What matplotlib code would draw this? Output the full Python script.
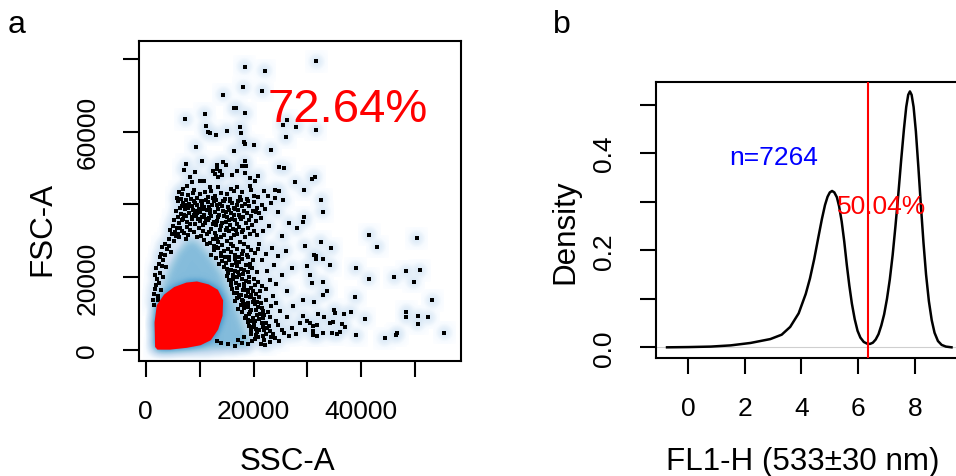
import numpy as np
import matplotlib
matplotlib.use("Agg")
import matplotlib.pyplot as plt
from matplotlib.path import Path
from matplotlib.colors import LinearSegmentedColormap

plt.rcParams["font.family"] = "Liberation Sans"

# ---- panel a: SSC-A / FSC-A (values in thousands) ----
# sparse events
events_k = [
    (18.4, 77.9), (22.1, 76.8), (18.1, 72.2), (21.6, 71.3), (14.4, 70.2), (16.4, 66.5),
    (16.8, 66.5), (18.5, 65.1), (11.0, 64.9), (7.3, 63.5), (11.1, 61.5), (11.5, 59.8),
    (11.9, 59.6), (13.0, 59.2), (15.0, 60.3), (17.5, 61.4), (17.6, 59.7), (18.2, 57.1),
    (18.4, 56.5), (20.0, 56.3), (9.3, 55.9), (16.4, 54.8), (23.2, 55.1), (26.2, 63.2),
    (25.5, 61.9), (27.9, 61.4), (26.0, 58.5), (10.4, 51.9), (7.5, 51.1), (7.1, 49.6),
    (13.3, 50.9), (14.3, 51.6), (14.9, 50.8), (18.4, 52.0), (17.8, 50.7), (18.6, 50.7),
    (24.8, 50.2), (25.7, 49.9), (12.5, 49.3), (13.2, 49.7), (13.8, 49.1), (12.9, 48.4),
    (14.1, 48.2), (13.5, 47.6), (9.1, 48.8), (16.9, 49.3), (16.0, 48.2), (18.4, 48.6),
    (19.3, 47.3), (20.9, 47.9), (20.3, 46.5), (8.2, 47.5), (8.5, 46.1), (7.6, 45.2),
    (7.0, 44.2), (6.7, 42.9), (5.8, 41.8), (10.1, 46.4), (10.9, 46.5), (11.9, 44.7),
    (12.2, 43.6), (11.0, 43.3), (10.1, 42.9), (10.4, 41.0), (11.6, 42.0), (13.5, 44.7),
    (15.0, 42.9), (16.3, 43.8), (16.9, 44.7), (17.5, 42.0), (15.6, 41.5), (14.4, 41.0),
    (19.3, 45.2), (20.0, 42.4), (20.9, 42.0), (21.9, 43.8), (24.0, 44.0), (24.8, 43.8),
    (24.0, 41.8), (25.5, 41.2), (27.7, 46.1),
    (31.6, 79.4), (31.5, 60.5), (31.4, 47.6), (30.9, 47.0), (29.4, 44.0), (32.6, 41.3),
    (32.8, 38.0), (29.4, 36.4), (29.2, 35.2), (41.5, 31.7), (50.3, 30.7), (32.5, 29.7),
    (43.0, 28.4), (34.4, 27.9), (31.2, 26.1), (31.5, 25.0), (31.6, 25.9), (32.8, 25.0),
    (30.0, 23.1), (34.2, 23.3), (39.0, 22.4), (30.5, 20.6), (41.4, 19.5), (46.1, 20.0),
    (48.3, 21.6), (50.8, 21.9), (49.7, 18.7), (30.8, 18.4), (32.8, 18.6), (33.6, 16.1),
    (32.8, 15.1), (38.9, 14.5), (29.2, 13.6), (31.2, 13.2), (53.2, 13.6), (35.0, 11.0),
    (36.7, 9.8), (38.0, 10.5), (35.1, 10.1), (48.3, 10.4), (48.3, 8.9), (50.6, 9.2),
    (52.4, 9.0), (50.5, 7.1), (32.0, 9.8), (33.1, 8.9), (29.2, 9.4), (29.9, 8.0),
    (30.5, 7.4), (40.6, 8.5), (34.1, 7.4), (34.8, 7.5), (36.5, 7.1), (36.9, 6.2),
    (31.1, 6.6), (31.7, 6.8), (29.6, 5.5), (31.0, 5.2), (32.8, 4.6), (34.5, 4.5),
    (35.4, 4.3), (36.0, 5.0), (31.1, 4.0), (31.8, 3.9), (39.1, 4.0), (44.3, 3.1),
    (46.4, 4.0), (46.7, 4.5), (55.4, 4.6),
]

# dense mass above the cloud
mass_k = [
    (6.0, 40.8), (6.8, 39.5), (7.5, 41.2), (8.1, 40.1), (8.9, 41.0), (9.6, 39.8),
    (10.2, 40.9), (10.9, 39.2), (11.6, 40.6), (12.3, 39.7), (13.1, 41.1), (13.8, 40.0),
    (14.6, 40.8), (15.3, 39.4), (16.1, 40.5), (16.9, 39.9), (17.6, 41.3), (18.4, 40.2),
    (19.2, 39.6), (20.1, 40.7), (21.5, 39.8), (23.3, 40.4), (5.7, 38.2), (6.5, 37.3),
    (7.2, 38.6), (8.0, 37.6), (8.7, 38.4), (9.4, 36.9), (10.1, 38.0), (10.8, 37.2),
    (11.4, 38.5), (12.2, 36.8), (12.9, 37.9), (13.6, 37.0), (14.3, 38.3), (15.0, 36.6),
    (15.8, 37.7), (16.6, 38.6), (17.4, 37.1), (18.3, 38.1), (19.5, 36.9), (21.0, 37.5),
    (24.5, 37.9), (5.2, 35.8), (6.1, 34.9), (6.9, 36.0), (7.7, 35.1), (8.5, 35.9),
    (9.2, 34.5), (10.0, 35.5), (10.7, 34.2), (11.5, 35.7), (12.4, 34.6), (13.2, 35.4),
    (14.0, 34.0), (14.9, 35.2), (15.7, 34.4), (16.5, 35.6), (17.3, 33.8), (18.6, 34.9),
    (20.4, 35.3), (22.8, 34.1), (26.5, 35.0), (4.6, 33.0), (5.5, 32.3), (6.4, 33.4),
    (7.1, 32.1), (10.6, 32.8), (11.3, 31.9), (12.1, 33.1), (12.8, 32.2), (13.7, 32.9),
    (14.5, 31.7), (15.4, 32.6), (16.3, 31.5), (17.8, 32.4), (19.4, 31.8), (21.7, 32.7),
    (25.3, 31.2), (28.0, 33.5),
    (6.3, 39.0), (7.0, 40.3), (7.9, 38.9), (8.5, 39.6), (9.2, 40.4), (9.9, 38.6),
    (10.5, 39.9), (11.2, 41.3), (12.0, 38.4), (12.7, 40.9), (13.4, 38.7), (14.1, 39.5),
    (14.9, 37.8), (15.6, 40.9), (16.4, 37.2), (17.1, 38.4), (17.9, 39.5), (18.8, 37.5),
    (19.9, 38.3), (20.7, 39.0), (22.2, 38.6), (5.9, 36.5), (6.7, 35.6), (7.4, 36.8),
    (8.2, 34.6), (8.9, 37.1), (9.7, 35.9), (10.4, 36.6), (11.0, 35.0), (11.8, 36.3),
    (12.6, 35.2), (13.4, 36.4), (14.2, 35.0), (15.1, 33.6), (16.0, 36.1), (16.9, 34.7),
    (17.7, 35.9), (19.0, 33.4), (19.8, 34.3), (21.3, 36.2), (5.0, 34.1), (5.8, 33.5),
    (6.7, 32.6), (7.6, 33.8), (8.3, 33.0), (9.0, 32.5), (9.8, 33.6), (10.3, 31.3),
    (11.8, 32.4), (13.1, 31.4), (14.9, 33.0), (16.8, 32.9), (18.5, 31.0), (20.6, 31.5),
    (6.2, 43.5), (7.8, 42.6), (9.0, 44.0), (9.5, 41.8), (12.8, 42.3), (13.9, 43.2),
    (15.8, 44.2), (17.9, 43.4), (18.8, 41.5), (19.6, 43.9), (22.6, 42.4), (8.7, 43.1),
    (6.6, 41.6), (7.3, 39.9), (8.4, 41.5), (9.1, 38.3), (10.6, 38.7), (11.7, 39.4),
    (12.5, 41.7), (13.3, 39.9), (14.7, 41.6), (15.5, 38.5), (16.3, 39.1), (17.2, 40.8),
    (18.1, 36.6), (19.0, 40.9), (20.4, 37.9), (7.1, 37.2), (8.6, 36.4), (9.6, 37.6),
    (11.1, 36.1), (12.0, 37.5), (13.0, 34.3), (14.5, 36.9), (15.4, 35.8), (16.2, 33.3),
    (17.5, 36.5), (18.0, 33.0), (19.2, 35.6), (20.0, 32.8), (6.0, 31.8), (7.9, 31.6),
    (9.5, 31.0), (12.4, 30.4), (14.0, 31.1), (15.9, 30.8), (17.0, 31.9),
]

# left flank of the cloud
left_band_k = [
    (4.3, 30.5), (3.6, 29.2), (5.2, 29.8), (3.9, 27.6), (2.9, 26.4), (4.7, 26.9),
    (3.2, 24.8), (2.4, 23.5), (3.8, 22.9), (2.7, 21.2), (2.1, 19.6), (3.3, 19.9),
    (1.9, 17.8), (2.8, 16.4), (1.6, 15.2), (2.2, 13.6), (1.5, 12.4), (6.2, 31.0),
    (7.4, 30.6), (3.1, 28.3), (4.4, 28.6), (2.6, 25.6), (3.5, 26.0), (2.0, 22.4),
    (3.0, 23.0), (1.8, 20.7), (2.5, 18.5), (1.7, 16.6), (2.3, 14.9), (1.4, 13.8),
    (5.6, 31.3), (4.9, 31.8), (3.0, 11.2),
]

# right flank of the cloud
right_band_k = [
    (10.8, 30.2), (12.0, 29.5), (13.2, 30.6), (14.1, 28.8), (15.0, 30.0), (16.2, 28.5),
    (17.5, 29.6), (19.0, 28.3), (21.0, 29.2), (23.5, 28.0), (12.6, 27.4), (13.9, 26.6),
    (15.2, 27.8), (16.6, 26.2), (18.0, 27.1), (20.2, 26.5), (26.0, 27.3), (29.5, 28.6),
    (13.0, 25.2), (14.2, 24.4), (15.4, 25.6), (16.7, 24.0), (17.9, 25.0), (19.3, 23.7),
    (14.6, 22.8), (15.8, 21.9), (17.0, 23.1), (18.3, 22.0), (19.8, 22.6), (21.6, 24.6),
    (23.8, 23.2), (27.2, 22.5), (15.0, 20.2), (16.2, 19.4), (17.4, 20.6), (18.6, 19.0),
    (15.8, 17.8), (17.0, 16.9), (18.2, 18.1), (19.5, 17.0), (20.8, 18.6), (16.4, 15.6),
    (17.7, 15.1), (19.0, 15.9), (20.5, 15.3), (22.3, 16.8), (24.1, 18.0), (26.3, 16.2),
    (16.9, 14.2), (18.1, 13.5), (19.4, 14.4), (20.7, 13.2), (17.6, 12.3), (18.9, 11.7),
    (20.2, 12.6), (21.6, 11.4), (17.9, 10.4), (19.2, 9.8), (20.5, 10.9), (21.9, 9.6),
    (23.2, 12.1), (25.0, 10.7), (27.4, 11.9), (23.6, 14.8), (18.4, 8.6), (19.7, 7.9),
    (21.0, 8.4), (22.3, 7.3), (19.1, 6.5), (20.4, 5.8), (21.8, 6.2), (23.1, 5.1),
    (24.6, 6.8), (19.6, 4.2), (20.9, 3.6), (22.4, 4.4), (24.0, 3.2), (25.6, 4.6),
    (27.1, 5.9), (28.6, 7.4), (19.8, 2.3), (21.4, 1.6), (23.0, 2.0), (16.5, 0.9),
    (15.2, 1.5), (17.8, 1.8),
    (11.4, 29.0), (12.7, 28.6), (13.5, 29.7), (14.6, 27.3), (15.8, 29.2), (16.9, 27.6),
    (18.3, 29.0), (19.6, 27.4), (12.2, 26.1), (13.4, 27.9), (14.8, 25.4), (15.9, 26.8),
    (17.3, 25.5), (18.7, 26.1), (20.9, 27.8), (22.4, 26.4), (24.6, 25.9), (13.6, 23.6),
    (14.9, 23.9), (16.1, 23.2), (17.4, 24.2), (18.6, 23.4), (19.9, 24.6), (20.6, 21.3),
    (15.3, 21.0), (16.6, 21.6), (17.7, 22.1), (19.0, 21.4), (22.5, 21.8), (25.3, 20.7),
    (15.5, 19.1), (16.8, 18.5), (17.9, 19.6), (19.2, 20.1), (20.1, 19.4), (21.5, 17.4),
    (16.1, 16.8), (17.3, 17.7), (18.7, 16.5), (19.9, 16.1), (21.2, 16.2), (23.0, 19.2),
    (16.6, 13.4), (17.4, 14.6), (18.6, 14.9), (19.9, 13.0), (21.1, 14.4), (22.4, 13.6),
    (17.2, 11.2), (18.5, 12.6), (19.6, 11.0), (20.9, 11.8), (22.6, 10.5), (24.2, 12.9),
    (18.6, 9.4), (19.9, 8.8), (21.2, 9.9), (23.0, 8.9), (26.2, 9.0), (18.9, 7.6),
    (20.1, 6.9), (21.5, 7.4), (22.9, 6.5), (24.1, 7.9), (19.5, 5.3), (20.6, 4.9),
    (22.0, 5.3), (23.6, 4.3), (25.2, 5.5), (26.5, 3.8), (20.3, 3.0), (21.9, 2.8),
    (24.7, 2.4), (27.9, 4.3), (18.3, 3.4), (17.1, 2.6), (14.0, 1.9), (13.2, 2.5),
    (13.0, 28.2), (14.0, 25.8), (15.5, 24.6), (16.5, 25.0), (17.8, 26.4), (19.0, 25.4),
    (15.0, 22.3), (16.2, 20.6), (17.2, 21.3), (18.1, 20.8), (19.4, 22.9), (15.9, 18.3),
    (17.0, 19.9), (18.2, 17.2), (19.2, 18.6), (16.9, 15.5), (18.0, 16.4), (19.5, 15.0),
    (20.3, 17.9), (17.8, 13.8), (18.9, 12.9), (20.1, 14.0), (21.4, 12.8), (18.2, 11.5),
    (19.4, 10.5), (20.6, 9.6), (21.8, 10.7), (19.0, 8.2), (20.3, 7.8), (21.7, 8.8),
    (19.8, 6.2), (21.0, 5.4), (22.5, 6.0), (20.5, 4.1), (21.7, 3.9), (23.2, 3.5),
    (22.2, 1.3), (18.9, 1.5),
]

# outline of the dense (blue) cloud, thousands
cloud_ssc_k = [1.4, 1.7, 2.0, 3.3, 4.5, 6.0, 7.6, 8.5, 9.8, 11.6, 13.8, 15.6, 17.2, 18.1, 18.7, 19.3, 12.0, 4.0]
cloud_fsc_k = [0.2, 0.7, 12.1, 17.6, 22.2, 26.8, 29.6, 30.3, 29.1, 25.9, 21.3, 14.9, 9.4, 5.7, 3.9, 1.1, 0.2, 0.0]

# outline of the gated (red) population, thousands
gate_ssc_k = [2.0, 1.9, 2.3, 3.6, 5.4, 7.6, 9.5, 11.6, 13.2, 14.1, 14.0, 13.2, 11.9, 10.1, 7.6, 4.5, 2.3]
gate_fsc_k = [0.9, 7.5, 12.1, 14.9, 16.9, 18.1, 18.4, 17.6, 16.2, 13.5, 9.4, 5.7, 2.9, 1.6, 0.9, 0.4, 0.4]
gated_label = "72.64%"

# ---- panel b: FL1-H density ----
fl1_x = [-0.75, 0.0, 0.8, 1.5, 2.2, 2.9, 3.3, 3.6, 3.9, 4.15, 4.30, 4.45, 4.60, 4.72,
         4.83, 4.92, 5.00, 5.08, 5.16, 5.25, 5.33, 5.42, 5.51, 5.60, 5.69, 5.78, 5.88,
         5.98, 6.08, 6.20, 6.32, 6.42, 6.52, 6.62, 6.72, 6.82, 6.92, 7.02, 7.12, 7.22,
         7.32, 7.42, 7.52, 7.62, 7.70, 7.77, 7.83, 7.89, 7.96, 8.04, 8.13, 8.22, 8.31,
         8.40, 8.50, 8.60, 8.70, 8.82, 8.95, 9.10, 9.30]
fl1_density = [0.000, 0.0005, 0.0015, 0.004, 0.009, 0.017, 0.026, 0.042, 0.070, 0.110,
               0.142, 0.182, 0.228, 0.264, 0.293, 0.310, 0.319, 0.322, 0.319, 0.309,
               0.290, 0.259, 0.218, 0.170, 0.127, 0.090, 0.058, 0.034, 0.020, 0.011,
               0.0075, 0.007, 0.0095, 0.016, 0.027, 0.045, 0.068, 0.100, 0.140, 0.190,
               0.250, 0.315, 0.385, 0.450, 0.495, 0.520, 0.527, 0.520, 0.495, 0.445,
               0.370, 0.290, 0.215, 0.150, 0.095, 0.056, 0.030, 0.013, 0.005, 0.0015, 0.000]
cutoff = 6.36
n_label = "n=7264"
above_label = "50.04%"

W, H = 956, 477


def fx(px):
    return px / W


def fy(py):
    return 1 - py / H


def blur(a, sigma):
    r = int(3 * sigma)
    k = np.exp(-0.5 * (np.arange(-r, r + 1) / sigma) ** 2)
    k /= k.sum()
    a = np.apply_along_axis(lambda v: np.convolve(v, k, mode="same"), 0, a)
    a = np.apply_along_axis(lambda v: np.convolve(v, k, mode="same"), 1, a)
    return a


fig = plt.figure(figsize=(W / 100, H / 100), dpi=100)
ax1 = fig.add_axes([fx(139), fy(362), 322 / W, 320 / H])
ax2 = fig.add_axes([fx(656), fy(359), 306 / W, 276 / H])

# ---- panel a ----
xl = (-1243, 58490)
yl = (-3111, 84985)
ev = np.array(events_k + mass_k + left_band_k + right_band_k) * 1000
nx, ny = 322, 320
hist, _, _ = np.histogram2d(ev[:, 1], ev[:, 0], bins=[ny, nx], range=[yl, xl])
xc = np.linspace(xl[0], xl[1], nx)
yc = np.linspace(yl[0], yl[1], ny)
X, Y = np.meshgrid(xc, yc)
grid = np.c_[X.ravel(), Y.ravel()]
cloud = Path(np.c_[cloud_ssc_k, cloud_fsc_k] * 1000).contains_points(grid).reshape(ny, nx)
gate = Path(np.c_[gate_ssc_k, gate_fsc_k] * 1000).contains_points(grid).reshape(ny, nx)
field = blur(hist * 4.0 + cloud * 1.0 + gate * 4.0, 3.8)
shade = np.clip(field / 16.0, 0, 1) ** 0.25
blues = LinearSegmentedColormap.from_list(
    "blues", ["#FFFFFF", "#F7FBFF", "#DEEBF7", "#C6DBEF", "#9ECAE1",
              "#6BAED6", "#4292C6", "#2171B5", "#08519C", "#08306B"])
ax1.imshow(shade, cmap=blues, vmin=0, vmax=1, origin="lower", aspect="auto",
           extent=(xl[0], xl[1], yl[0], yl[1]), interpolation="bilinear", zorder=0)
ax1.scatter(ev[:, 0], ev[:, 1], s=9, marker="s", color="black", linewidths=0, zorder=2)
ax1.fill(np.array(gate_ssc_k) * 1000, np.array(gate_fsc_k) * 1000, color="red",
         ec="red", lw=2, zorder=3)
ax1.text(37400, 63000, gated_label, color="red", fontsize=34, ha="center",
         va="baseline", zorder=1.5)
ax1.set_xlim(xl)
ax1.set_ylim(yl)
ax1.set_xticks(np.arange(0, 50001, 10000))
ax1.set_xticklabels(["0", "", "20000", "", "40000", ""])
ax1.set_yticks(np.arange(0, 80001, 20000))
ax1.set_yticklabels(["0", "20000", "", "60000", ""], rotation=90, va="center")

# ---- panel b ----
ax2.axhline(0, color="#cfcfcf", lw=0.8, zorder=1)
ax2.plot(fl1_x, fl1_density, color="black", lw=1.8, zorder=2)
ax2.axvline(cutoff, color="red", lw=1.5, zorder=3)
ax2.text(3.0, 0.378, n_label, color="blue", fontsize=19, ha="center", va="baseline")
ax2.text(6.84, 0.277, above_label, color="red", fontsize=19, ha="center", va="baseline")
ax2.set_xlim(-1.14, 9.67)
ax2.set_ylim(-0.022, 0.5464)
ax2.set_xticks([0, 2, 4, 6, 8])
ax2.set_yticks([0, 0.1, 0.2, 0.3, 0.4, 0.5])
ax2.set_yticklabels(["0.0", "", "0.2", "", "0.4", ""], rotation=90, va="center")

for ax in (ax1, ax2):
    for s in ax.spines.values():
        s.set_linewidth(1.5)
    ax.tick_params(length=11.5, width=1.5, labelsize=19)
    ax.tick_params(axis="x", pad=16)
    ax.tick_params(axis="y", pad=17)

# axis titles and panel letters
fig.text(fx(287), fy(470), "SSC-A", fontsize=22.6, ha="center", va="baseline")
fig.text(fx(50), fy(229.5), "FSC-A", fontsize=22.6, ha="center", va="baseline",
         rotation=90, rotation_mode="anchor")
fig.text(fx(803), fy(470), "FL1-H (533\u00b130 nm)", fontsize=22.6, ha="center", va="baseline")
fig.text(fx(573), fy(232), "Density", fontsize=22.6, ha="center", va="baseline",
         rotation=90, rotation_mode="anchor")
fig.text(fx(8), fy(33), "a", fontsize=23, ha="left", va="baseline")
fig.text(fx(553), fy(33), "b", fontsize=23, ha="left", va="baseline")

fig.savefig("out.png", dpi=100)
